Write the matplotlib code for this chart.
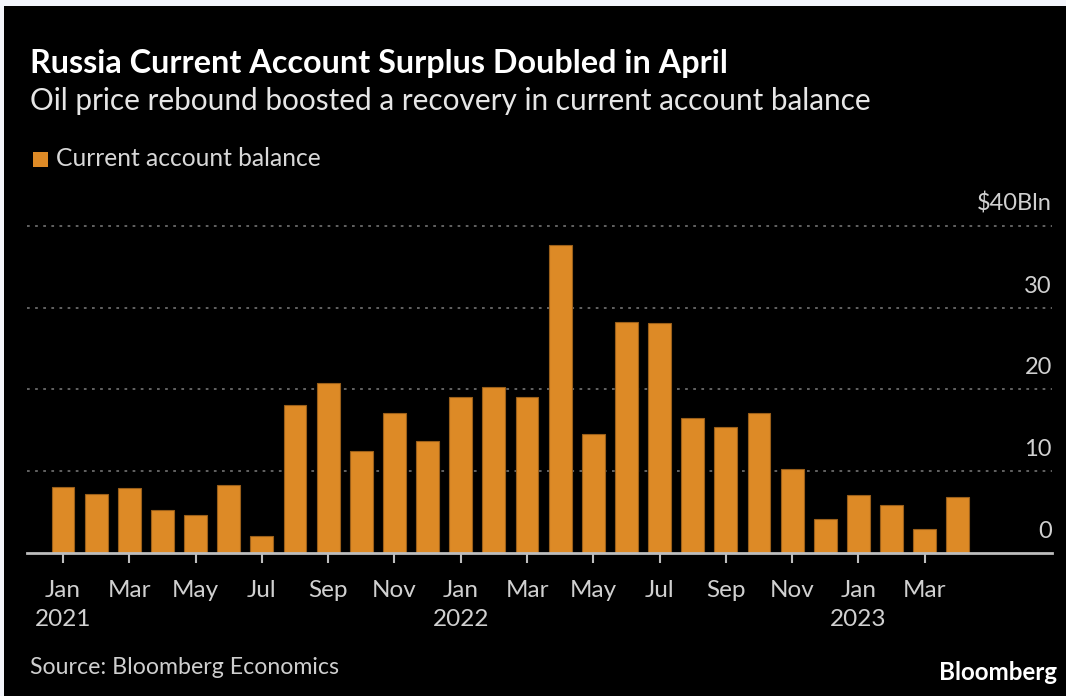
import matplotlib
matplotlib.use("Agg")
import matplotlib.pyplot as plt
from matplotlib.patches import Rectangle

# monthly data, Jan 2021 .. Apr 2023, $ bln
months = ["Jan", "Feb", "Mar", "Apr", "May", "Jun", "Jul", "Aug", "Sep", "Oct", "Nov", "Dec"] * 2 + ["Jan", "Feb", "Mar", "Apr"]
years = [2021] * 12 + [2022] * 12 + [2023] * 4
balance = [8.1, 7.2, 7.9, 5.2, 4.6, 8.3, 2.05, 18.1, 20.8, 12.4, 17.1, 13.7,
           19.1, 20.3, 19.1, 37.7, 14.5, 28.2, 28.1, 16.55, 15.4, 17.1, 10.3, 4.1,
           7.1, 5.8, 2.9, 6.8]
yticks = [0, 10, 20, 30, 40]
ytick_labels = ["0", "10", "20", "30", "$40Bln"]

FONT = "Lato"
ORANGE = "#dd8a26"
W, H = 1066, 696

plt.rcParams['font.family'] = [FONT, 'DejaVu Sans']

fig = plt.figure(figsize=(W / 100, H / 100), dpi=100)
fig.patch.set_facecolor("#f3f5fb")

# black card (screenshot has a thin light strip on top/left)
fig.patches.append(Rectangle((4 / W, 0), 1, 1 - 6 / H, transform=fig.transFigure,
                             facecolor="black", edgecolor="none", zorder=-10))

ax = fig.add_axes([27 / W, 143.3 / H, (1052 - 27) / W, (552.7 - 226) / H])
ax.set_zorder(2)
ax.patch.set_alpha(0)

x = list(range(len(balance)))
ax.bar(x, balance, width=0.69, color=ORANGE, edgecolor="#9a5f1a", linewidth=0.8, zorder=3)

ax.set_ylim(0, 40)
ax.set_xlim(-1.086, 29.84)

for s in ["top", "right", "left"]:
    ax.spines[s].set_visible(False)
ax.spines["bottom"].set_color("#bdbdbd")
ax.spines["bottom"].set_linewidth(2)
ax.spines["bottom"].set_zorder(4)

# dotted gridlines
for v in yticks[1:]:
    ax.axhline(v, color="#6a6a6a", linestyle=(0, (1.5, 3)), linewidth=1.3, zorder=1, clip_on=False)

ax.set_yticks([])
for v, lab in zip(yticks, ytick_labels):
    ax.annotate(lab, xy=(1.0, v), xycoords=ax.get_yaxis_transform(),
                xytext=(0, 11), textcoords="offset pixels",
                ha="right", va="bottom", color="#d0d0d0", fontsize=17, annotation_clip=False)

tick_pos = x[::2]
tick_lab = []
for i in tick_pos:
    if months[i] == "Jan":
        tick_lab.append(f"{months[i]}\n{years[i]}")
    else:
        tick_lab.append(months[i])
ax.set_xticks(tick_pos)
ax.set_xticklabels(tick_lab, fontsize=17.5, color="#d0d0d0", linespacing=1.45, va="top")
ax.tick_params(axis="x", length=7, width=1.5, color="#bdbdbd", pad=13)

# header
fig.text(30 / W, 1 - 63 / H, "Russia Current Account Surplus Doubled in April",
         color="white", fontsize=23.3, fontweight="bold", va="center", ha="left")
fig.text(30 / W, 1 - 101 / H, "Oil price rebound boosted a recovery in current account balance",
         color="#e6e6e6", fontsize=21.4, va="center", ha="left")

# legend
fig.patches.append(Rectangle((33 / W, 1 - 167 / H), 15 / W, 15 / H, transform=fig.transFigure,
                             facecolor=ORANGE, edgecolor="none", zorder=2))
fig.text(56 / W, 1 - 159 / H, "Current account balance", color="#d8d8d8",
         fontsize=17.7, va="center", ha="left")

# footer
fig.text(30 / W, 1 - 667 / H, "Source: Bloomberg Economics", color="#cfcfcf",
         fontsize=16.7, va="center", ha="left")
fig.text(1057 / W, 1 - 672 / H, "Bloomberg", color="white", fontsize=17.4,
         fontweight="bold", va="center", ha="right")

fig.savefig("out.png", dpi=100, facecolor=fig.get_facecolor())
